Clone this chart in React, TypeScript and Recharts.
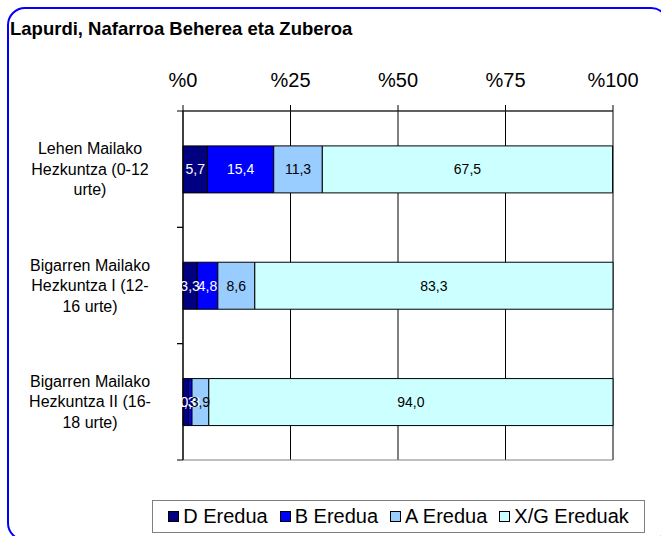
import React from "react";
import {
  BarChart,
  Bar,
  XAxis,
  YAxis,
  CartesianGrid,
  Legend,
  LabelList,
  ReferenceArea,
} from "recharts";

const categories = [
  "Lehen Mailako\nHezkuntza (0-12\nurte)",
  "Bigarren Mailako\nHezkuntza I (12-\n16 urte)",
  "Bigarren Mailako\nHezkuntza II (16-\n18 urte)",
];

const dEredua = [5.7, 3.3, 1.3];
const bEredua = [15.4, 4.8, 0.8];
const aEredua = [11.3, 8.6, 3.9];
const xgEreduak = [67.5, 83.3, 94.0];

const xTicks = [0, 25, 50, 75, 100];

const SERIES = [
  { key: "d", name: "D Eredua", fill: "#000080", labelColor: "#fff" },
  { key: "b", name: "B Eredua", fill: "#0000ff", labelColor: "#fff" },
  { key: "a", name: "A Eredua", fill: "#99ccff", labelColor: "#000" },
  { key: "xg", name: "X/G Ereduak", fill: "#ccffff", labelColor: "#000" },
];

const data = categories.map((name, i) => ({
  name,
  d: dEredua[i],
  b: bEredua[i],
  a: aEredua[i],
  xg: xgEreduak[i],
}));

const FONT = '"Liberation Sans", Arial, sans-serif';
const PLOT_TOP = 111;
const PLOT_BOTTOM = 460;
const X_AXIS_H = 30;
const BAND = (PLOT_BOTTOM - PLOT_TOP) / categories.length;

const fmt = (v: any) => Number(v).toFixed(1).replace(".", ",");

function CategoryTick({ y, payload }: any) {
  const lines = String(payload.value).split("\n");
  const lh = 20.5;
  const start = -((lines.length - 1) * lh) / 2;
  return (
    <g>
      {lines.map((line, i) => (
        <text
          key={i}
          x={90}
          y={y + start + i * lh}
          textAnchor="middle"
          dominantBaseline="central"
          fontSize={16}
          fill="#000"
          fontFamily={FONT}
        >
          {line}
        </text>
      ))}
      <line x1={177} x2={183} y1={y - BAND / 2} y2={y - BAND / 2} stroke="#000" />
      <line x1={177} x2={183} y1={y + BAND / 2} y2={y + BAND / 2} stroke="#000" />
    </g>
  );
}

function LegendBox() {
  return (
    <div
      style={{
        border: "1px solid #808080",
        height: 33,
        boxSizing: "border-box",
        display: "flex",
        alignItems: "center",
        justifyContent: "center",
        gap: 12,
        fontSize: 20,
        fontFamily: FONT,
        background: "#fff",
      }}
    >
      {SERIES.map((s) => (
        <span key={s.key} style={{ display: "flex", alignItems: "center" }}>
          <span
            style={{
              display: "inline-block",
              width: 9,
              height: 9,
              background: s.fill,
              border: "1px solid #000",
              marginRight: 4,
            }}
          />
          {s.name}
        </span>
      ))}
    </div>
  );
}

export default function App() {
  return (
    <div
      style={{
        position: "relative",
        width: 661,
        height: 536,
        overflow: "hidden",
        background: "#fff",
        fontFamily: FONT,
      }}
    >
      <style>{"html,body{margin:0;padding:0} #root{overflow:visible}"}</style>
      <div
        style={{
          position: "absolute",
          left: 10,
          top: 18,
          fontSize: 18.5,
          fontWeight: "bold",
          color: "#000",
          whiteSpace: "nowrap",
        }}
      >
        Lapurdi, Nafarroa Beherea eta Zuberoa
      </div>
      <div style={{ position: "absolute", left: 0, top: 0 }}>
        <BarChart
          width={661}
          height={536}
          data={data}
          layout="vertical"
          margin={{ top: PLOT_TOP - X_AXIS_H, right: 48, bottom: 536 - PLOT_BOTTOM, left: 8 }}
          barCategoryGap="30%"
        >
          <ReferenceArea x1={0} x2={100} fill="none" stroke="#808080" strokeWidth={1} />
          <CartesianGrid horizontal={false} stroke="#000" />
          <XAxis
            type="number"
            orientation="top"
            height={X_AXIS_H}
            domain={[0, 100]}
            ticks={xTicks}
            tickFormatter={(v) => `%${v}`}
            tick={{ fill: "#000", fontSize: 20, fontFamily: FONT }}
            tickSize={6}
            tickMargin={18}
            axisLine={{ stroke: "#000" }}
            tickLine={{ stroke: "#000" }}
            interval={0}
          />
          <YAxis
            type="category"
            dataKey="name"
            width={175}
            tick={<CategoryTick />}
            tickLine={false}
            axisLine={{ stroke: "#000" }}
            interval={0}
          />
          {SERIES.map((s) => (
            <Bar
              key={s.key}
              dataKey={s.key}
              name={s.name}
              stackId="x"
              fill={s.fill}
              stroke="#000"
              strokeWidth={1}
              isAnimationActive={false}
            >
              <LabelList
                dataKey={s.key}
                position="center"
                formatter={fmt}
                fill={s.labelColor}
                fontSize={14}
                fontFamily={FONT}
              />
            </Bar>
          ))}
          <Legend
            layout="horizontal"
            verticalAlign="middle"
            align="center"
            content={<LegendBox />}
            wrapperStyle={{ position: "absolute", left: 152, top: 500, width: 493, height: 33 }}
          />
        </BarChart>
      </div>
      {/* rounded blue frame, drawn over everything */}
      <svg
        width={661}
        height={536}
        style={{ position: "absolute", left: 0, top: 0, pointerEvents: "none", zIndex: 5 }}
      >
        <rect x={8} y={8} width={660} height={532} rx={17} ry={17} fill="none" stroke="#0000ff" strokeWidth={2} />
      </svg>
    </div>
  );
}
